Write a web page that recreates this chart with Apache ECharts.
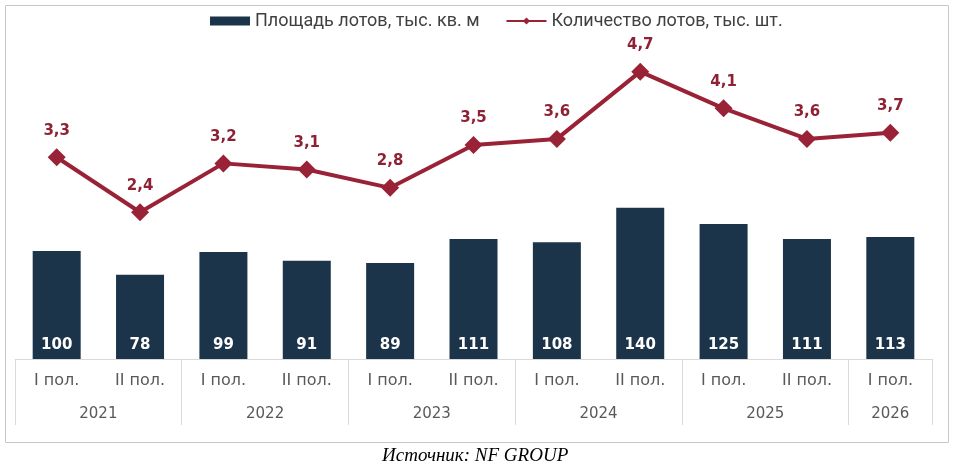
<!DOCTYPE html>
<html><head><meta charset="utf-8">
<script src="https://cdn.jsdelivr.net/npm/echarts@6/dist/echarts.min.js"></script>
<style>html,body{margin:0;padding:0;background:#fff}#c{width:954px;height:472px}</style>
</head><body><div id="c"></div>
<script>
const halves = ['I пол.','II пол.','I пол.','II пол.','I пол.','II пол.','I пол.','II пол.','I пол.','II пол.','I пол.'];
const years = ['2021','2022','2023','2024','2025','2026'];
const yearSpans = [2,2,2,2,2,1];
const areaValues = [100,78,99,91,89,111,108,140,125,111,113];
const countValues = [3.3,2.4,3.2,3.1,2.8,3.5,3.6,4.7,4.1,3.6,3.7];

// build the half-step year axis: points at every half category (boundaryGap false)
const yearAxisData = [];
const yearLabelIdx = new Set();
const yearTickIdx = new Set([0]);
let pos = 0;
for (let i = 0; i <= halves.length * 2; i++) yearAxisData.push('');
years.forEach((y, i) => {
  const center = pos + yearSpans[i];
  yearAxisData[center] = y;
  yearLabelIdx.add(center);
  pos += yearSpans[i] * 2;
  yearTickIdx.add(pos);
});

const chart = echarts.init(document.getElementById('c'));
const red = '#9a2236';
const navy = '#1c3449';
chart.setOption({
  animation: false,
  legend: {
    top: 7, left: 205,
    itemWidth: 40, itemHeight: 9, itemGap: 26,
    textStyle: { fontFamily: 'Roboto', fontSize: 18, color: '#404040' },
    data: [
      { name: 'Площадь лотов, тыс. кв. м', icon: 'rect' },
      { name: 'Количество лотов, тыс. шт.' }
    ]
  },
  graphic: [
    { type: 'rect', shape: { x: 5.5, y: 5.5, width: 943, height: 437 }, style: { fill: 'none', stroke: '#c8c8c8', lineWidth: 1 }, silent: true },
    { type: 'text', left: 382, top: 446, style: { text: 'Источник: NF GROUP', font: 'italic 19px "Liberation Serif"', fill: '#000' } }
  ],
  grid: { left: 15, right: 22, top: 35, bottom: 113 },
  xAxis: [
    {
      type: 'category', data: halves,
      axisLine: { lineStyle: { color: '#d9d9d9', width: 1 } },
      axisTick: { show: false },
      axisLabel: { margin: 14, fontFamily: 'DejaVu Sans', fontSize: 16, color: '#595959', interval: 0 }
    },
    {
      type: 'category', data: yearAxisData, boundaryGap: false, position: 'bottom',
      axisLine: { show: false },
      axisTick: { show: true, length: 66, lineStyle: { color: '#d9d9d9' }, interval: (i) => yearTickIdx.has(i) },
      axisLabel: { margin: 48, fontFamily: 'DejaVu Sans', fontSize: 15, color: '#595959', interval: (i) => yearLabelIdx.has(i) }
    }
  ],
  yAxis: [
    { type: 'value', min: 0, max: 300, show: false, splitLine: { show: false } },
    { type: 'value', min: 0, max: 5.3, show: false, splitLine: { show: false } }
  ],
  series: [
    {
      name: 'Площадь лотов, тыс. кв. м', type: 'bar', data: areaValues, barWidth: 48,
      itemStyle: { color: navy },
      label: { show: true, position: 'insideBottom', distance: 6, color: '#fff', fontFamily: 'DejaVu Sans', fontWeight: 'bold', fontSize: 15 }
    },
    {
      name: 'Количество лотов, тыс. шт.', type: 'line', yAxisIndex: 1, data: countValues,
      symbol: 'diamond', symbolSize: 18,
      lineStyle: { color: red, width: 4 }, itemStyle: { color: red },
      label: { show: true, position: 'top', distance: 10, color: '#8e2234', fontFamily: 'DejaVu Sans', fontWeight: 'bold', fontSize: 15,
        formatter: p => String(p.value).replace('.', ',') }
    }
  ]
});
</script></body></html>
